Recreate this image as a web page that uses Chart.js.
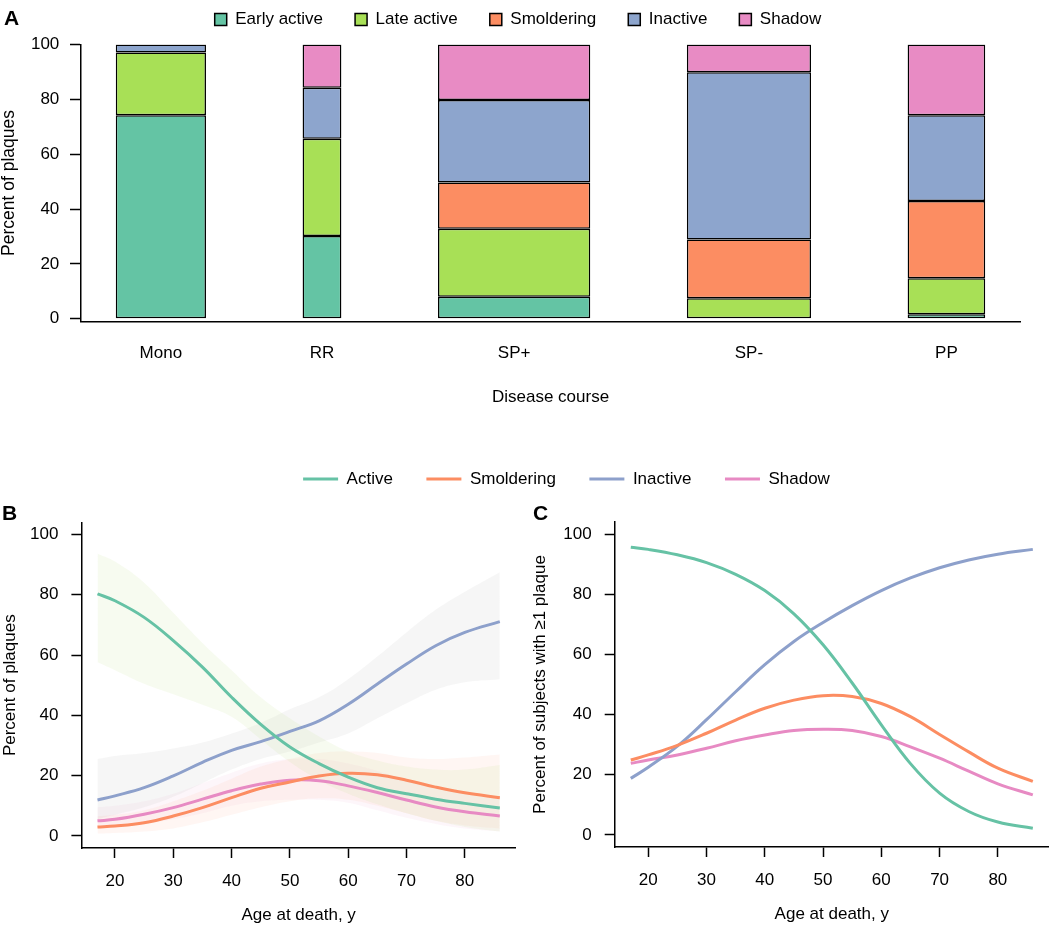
<!DOCTYPE html>
<html>
<head>
<meta charset="utf-8">
<script src="https://cdn.jsdelivr.net/npm/chart.js@4.4.1/dist/chart.umd.min.js"></script>
<style>
  html, body { margin: 0; padding: 0; background: #fff; overflow: hidden; }
  body { width: 1050px; height: 933px; position: relative; font-family: "Liberation Sans", Arial, sans-serif; }
  canvas { position: absolute; }
  .tag { position: absolute; font-weight: bold; font-size: 21px; line-height: 21px; color: #000; }
</style>
</head>
<body>
<canvas id="chartA" width="1050" height="429" style="left:0; top:-21px;"></canvas>
<canvas id="chartB" width="1133" height="497" style="left:0; top:436.5px;"></canvas>
<canvas id="chartC" width="530" height="438" style="left:520px; top:495px;"></canvas>
<div class="tag" style="left:4px; top:7px;">A</div>
<div class="tag" style="left:2px; top:502px;">B</div>
<div class="tag" style="left:533px; top:502px;">C</div>
<script>
// ---- panel A: plaque types by disease course ----
const courses = ['Mono', 'RR', 'SP+', 'SP-', 'PP'];
const courseWidth = [0.93, 0.40, 1.57, 1.28, 0.80]; // relative bar widths
const plaqueTypes = ['Early active', 'Late active', 'Smoldering', 'Inactive', 'Shadow'];
const earlyActive = [74.2, 30.2, 8.0, 0, 1.6];
const lateActive = [22.9, 35.4, 24.8, 7.5, 13.2];
const smoldering = [0, 0, 16.9, 21.4, 28.1];
const inactive = [2.9, 18.6, 30.1, 61.0, 31.3];
const shadow = [0, 15.8, 20.2, 10.1, 25.8];
const pctTicks = [0, 20, 40, 60, 80, 100];

// ---- panels B and C: by age at death ----
const ages = [17, 20, 25, 30, 35, 40, 45, 50, 55, 60, 65, 70, 75, 80, 86];
const ageTicks = [20, 30, 40, 50, 60, 70, 80];
const lineNames = ['Active', 'Smoldering', 'Inactive', 'Shadow'];

// B: percent of plaques (fit and confidence band)
const plaqActive = [80.3, 78, 72.5, 64.8, 56, 46, 37, 29.5, 24, 19.5, 16, 14, 12.2, 10.8, 9.3];
const plaqActiveLo = [57.6, 55, 50.5, 47, 43.5, 39.5, 32, 24.5, 18.5, 14, 10.5, 7.5, 5, 3, 1.5];
const plaqActiveHi = [93.6, 91, 84, 74, 64, 55, 46, 39, 33, 28, 25, 23, 22, 22, 23.5];
const plaqSmold = [3, 3.3, 4.4, 6.6, 9.4, 12.7, 15.8, 17.9, 19.9, 20.8, 20.3, 18.5, 16.2, 14.3, 12.7];
const plaqSmoldLo = [0.8, 1, 1.5, 2.5, 4.5, 7, 9.5, 11.5, 12.5, 12, 10, 7.5, 5, 3.5, 2.5];
const plaqSmoldHi = [6.5, 7, 8.5, 11.5, 15, 19, 23, 25.5, 27.5, 28, 27.5, 26, 25.5, 26, 27];
const plaqInact = [11.9, 13.3, 16, 19.9, 24.4, 28.4, 31.3, 34.7, 38.2, 43.7, 50.4, 57, 63.1, 67.5, 71.1];
const plaqInactLo = [5.5, 7, 9.5, 13, 17.5, 22, 25.5, 28, 31, 34, 39, 44, 48.5, 51, 52];
const plaqInactHi = [25.5, 26.5, 27.5, 29, 31, 34, 37.5, 42, 46, 52, 59.5, 67.5, 75, 81, 87.5];
const plaqShadow = [5, 5.5, 7.2, 9.4, 12.2, 15, 17.2, 18.5, 18.3, 16.6, 14.4, 11.9, 9.6, 8, 6.6];
const plaqShadowLo = [2.5, 3, 4, 5.5, 7.5, 10, 11.5, 12, 12, 11, 8.5, 6, 4, 2.5, 1.5];
const plaqShadowHi = [9.5, 10, 11.5, 14, 17.5, 21, 24, 25.5, 25.5, 24, 21.5, 18.5, 16, 14, 12.5];

// C: percent of subjects with at least one plaque
const subjActive = [95.6, 94.9, 93.1, 90.5, 86.6, 81.2, 73.5, 63.2, 50.5, 36.6, 23.7, 13.9, 7.8, 4.3, 2.2];
const subjSmold = [24.9, 26.6, 29.8, 33.8, 38.2, 42.1, 44.8, 46.3, 46, 43.7, 39.3, 33.4, 27.6, 22.2, 17.8];
const subjInact = [18.8, 22.5, 29.5, 38.3, 47.6, 56.6, 64.3, 70.6, 76.2, 81.2, 85.4, 88.8, 91.4, 93.3, 94.9];
const subjShadow = [23.8, 24.9, 26.6, 28.8, 31.3, 33.2, 34.7, 35.1, 34.7, 32.7, 29.3, 25.5, 21.2, 17.0, 13.3];

const ink = '#000';
const typeColors = ['#64C4A4', '#A8E056', '#FC8D62', '#8DA5CD', '#E88BC4'];
const lineColors = ['#66C2A5', '#FC8D62', '#8DA0CB', '#E78AC3'];
const bandColors = ['rgba(166,216,84,0.09)', 'rgba(252,141,98,0.08)', 'rgba(140,140,140,0.08)', 'rgba(231,138,195,0.08)'];

Chart.defaults.font.family = "'Liberation Sans', Arial, sans-serif";
Chart.defaults.font.size = 17;
Chart.defaults.color = ink;

// bar positions like barplot(width = courseWidth, space = 1)
const gap = courseWidth.reduce((a, b) => a + b, 0) / courseWidth.length;
const centers = [];
let edge = gap;
courseWidth.forEach(w => { centers.push(edge + w / 2); edge += w + gap; });
const barLo = gap, barHi = edge - gap;
const barPad = (barHi - barLo) * 0.04;
let minStep = Infinity;
for (let i = 1; i < centers.length; i++) minStep = Math.min(minStep, centers[i] - centers[i - 1]);

const typeValues = [earlyActive, lateActive, smoldering, inactive, shadow];
const barSets = [];
plaqueTypes.forEach((name, t) => {
    courses.forEach((c, i) => {
        barSets.push({
            label: name,
            data: [{ x: centers[i], y: typeValues[t][i] }],
            backgroundColor: typeColors[t],
            borderColor: '#000',
            borderWidth: 1.5,
            borderSkipped: false,
            categoryPercentage: 1,
            barPercentage: courseWidth[i] / minStep,
        });
    });
});

const tickGrid = { drawOnChartArea: false, tickLength: 10, tickWidth: 1.5, color: ink, tickColor: ink };

new Chart(document.getElementById('chartA'), {
    type: 'bar',
    data: { datasets: barSets },
    options: {
        responsive: false,
        animation: false,
        events: [],
        layout: { padding: { left: 16, right: 30, top: 0, bottom: 0 } },
        plugins: {
            legend: {
                labels: {
                    boxWidth: 12, boxHeight: 12, padding: 32, color: ink,
                    filter: item => item.datasetIndex % courses.length === 0,
                },
            },
            title: { display: true, text: '', weight: 500, font: { size: 1 }, padding: { top: 0, bottom: 5.3 } },
            tooltip: { enabled: false },
        },
        scales: {
            x: {
                type: 'linear',
                stacked: true,
                offset: false,
                min: barLo - barPad,
                max: barHi + barPad,
                afterBuildTicks: s => { s.ticks = centers.map(v => ({ value: v })); },
                afterFit: s => { s.height = 86.5; },
                ticks: { autoSkip: false, maxRotation: 0, padding: 21.6, color: ink, callback: (v, i) => courses[i] },
                grid: { display: false, drawTicks: false, tickLength: 0 },
                border: { color: ink, width: 1.5 },
                title: { display: true, text: 'Disease course', color: ink, padding: { top: 0, bottom: 0.8 } },
            },
            y: {
                stacked: true,
                min: -1,
                max: 100,
                afterBuildTicks: s => { s.ticks = pctTicks.map(v => ({ value: v })); },
                afterFit: s => { s.width = 65; },
                ticks: { padding: 10.7, color: ink },
                grid: { ...tickGrid, tickLength: 11 },
                border: { color: ink, width: 1.5 },
                title: { display: true, text: 'Percent of plaques', color: ink, font: { size: 17.5 }, padding: { top: -17.7, bottom: 0 } },
            },
        },
    },
});

function toPoints(values) {
    return ages.map((a, i) => ({ x: a, y: values[i] }));
}

function lineSets(series) {
    return series.map((s, k) => ({
        label: lineNames[k],
        data: toPoints(s),
        borderColor: lineColors[k],
        backgroundColor: lineColors[k],
        borderWidth: 3,
        pointRadius: 0,
        fill: false,
        tension: 0.4,
        yAxisID: 'y',
    }));
}

function bandSets(bands) {
    const out = [];
    bands.forEach(([lo, hi], k) => {
        out.push({ label: lineNames[k] + ' hi', data: toPoints(hi), fill: '+1', backgroundColor: bandColors[k],
                   borderWidth: 0, pointRadius: 0, tension: 0.4, yAxisID: 'y' });
        out.push({ label: lineNames[k] + ' lo', data: toPoints(lo), fill: false, backgroundColor: bandColors[k],
                   borderWidth: 0, pointRadius: 0, tension: 0.4, yAxisID: 'y' });
    });
    return out;
}

function ageScale(height) {
    const span = ages[ages.length - 1] - ages[0];
    return {
        type: 'linear',
        min: ages[0] - 0.04 * span,
        max: ages[ages.length - 1] + 0.04 * span,
        afterBuildTicks: s => { s.ticks = ageTicks.map(v => ({ value: v })); },
        afterFit: s => { s.height = height; },
        ticks: { padding: 13, color: ink },
        grid: tickGrid,
        border: { color: ink, width: 1.5 },
        title: { display: true, text: 'Age at death, y', color: ink, padding: { top: 0, bottom: 8 } },
    };
}

function pctScale(width, text, titleTop) {
    const span = pctTicks[pctTicks.length - 1] - pctTicks[0];
    return {
        type: 'linear',
        min: pctTicks[0] - 0.04 * span,
        max: pctTicks[pctTicks.length - 1] + 0.04 * span,
        afterBuildTicks: s => { s.ticks = pctTicks.map(v => ({ value: v })); },
        afterFit: s => { s.width = width; },
        ticks: { padding: 13, color: ink },
        grid: tickGrid,
        border: { color: ink, width: 1.5 },
        title: { display: true, text: text, color: ink, padding: { top: titleTop, bottom: 0 } },
    };
}

new Chart(document.getElementById('chartB'), {
    type: 'line',
    data: {
        datasets: [
            ...lineSets([plaqActive, plaqSmold, plaqInact, plaqShadow]),
            ...bandSets([[plaqActiveLo, plaqActiveHi], [plaqSmoldLo, plaqSmoldHi],
                         [plaqInactLo, plaqInactHi], [plaqShadowLo, plaqShadowHi]]),
        ],
    },
    options: {
        responsive: false,
        animation: false,
        events: [],
        layout: { padding: 0 },
        plugins: {
            legend: {
                labels: {
                    usePointStyle: true, pointStyle: 'line', pointStyleWidth: 35, padding: 33.5, color: ink,
                    filter: item => item.datasetIndex < lineNames.length,
                },
            },
            title: { display: true, text: '', weight: 500, font: { size: 10 }, padding: { top: 0, bottom: 12.9 } },
            tooltip: { enabled: false },
        },
        scales: {
            x: ageScale(86),
            y: pctScale(81.4, 'Percent of plaques', 0),
            // empty right-hand box that keeps panel B in the left half
            pad: {
                type: 'linear', position: 'right', display: true,
                ticks: { display: false }, grid: { display: false }, border: { display: false },
                afterFit: s => { s.width = 617.1; },
            },
        },
    },
});

new Chart(document.getElementById('chartC'), {
    type: 'line',
    data: { datasets: lineSets([subjActive, subjSmold, subjInact, subjShadow]) },
    options: {
        responsive: false,
        animation: false,
        events: [],
        layout: { padding: { top: 27, right: 1.1, left: 0, bottom: 0 } },
        plugins: {
            legend: { display: false },
            tooltip: { enabled: false },
        },
        scales: {
            x: ageScale(86),
            y: pctScale(94.7, 'Percent of subjects with \u22651 plaque', 10),
        },
    },
});
</script>
</body>
</html>
